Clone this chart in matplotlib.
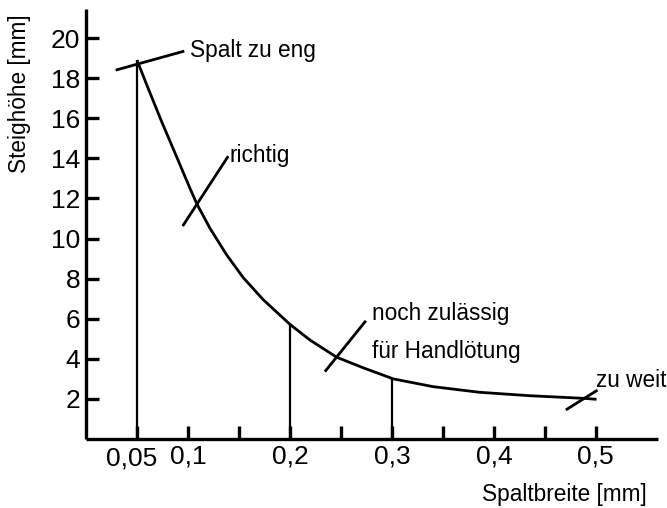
import matplotlib
matplotlib.use("Agg")
import matplotlib.pyplot as plt
import matplotlib.transforms as mtransforms

plt.rcParams['font.family'] = ['Liberation Sans', 'DejaVu Sans']

# Data
curve_x = [0.05, 0.0601, 0.0742, 0.0882, 0.102, 0.1085, 0.1216, 0.138, 0.1542,
           0.1738, 0.2, 0.2196, 0.2458, 0.272, 0.3013, 0.3405, 0.386, 0.435,
           0.4876, 0.5007]
curve_y = [18.9, 17.6, 15.83, 14.16, 12.5, 11.75, 10.51, 9.18, 8.05,
           6.95, 5.72, 4.94, 4.08, 3.55, 3.0, 2.61, 2.33, 2.16,
           2.03, 1.98]

drop_x = [0.05, 0.2, 0.3]
drop_y = [18.9, 5.72, 3.0]

y_ticks = [2, 4, 6, 8, 10, 12, 14, 16, 18, 20]
x_ticks = [0.05, 0.1, 0.15, 0.2, 0.25, 0.3, 0.35, 0.4, 0.45, 0.5]
x_tick_labels = ['0,05', '0,1', '', '0,2', '', '0,3', '', '0,4', '', '0,5']

# annotations: (text lines, text pos, leader line start, leader line end)
annotations = [
    (["Spalt zu eng"], (0.102, 19.05), (0.0291, 18.40), (0.0964, 19.35)),
    (["richtig"], (0.141, 13.83), (0.0948, 10.62), (0.1395, 14.11)),
    (["noch zulässig", "für Handlötung"], (0.2804, 5.93), (0.2343, 3.36), (0.2745, 5.90)),
    (["zu weit"], (0.500, 2.61), (0.4706, 1.45), (0.5017, 2.44)),
]
text_line_gap = 1.91

fig = plt.figure(figsize=(6.67, 5.08), dpi=100)
ax = fig.add_axes([86/667, 1 - 439/508, (658 - 86)/667, (439 - 9)/508])
ax.set_xlim(0, 0.561)
ax.set_ylim(0, 21.45)

for s in ['top', 'right']:
    ax.spines[s].set_visible(False)
for s in ['left', 'bottom']:
    ax.spines[s].set_linewidth(2.4)
    ax.spines[s].set_capstyle('butt')

ax.plot(curve_x, curve_y, color='black', lw=2.0, solid_capstyle='butt',
        solid_joinstyle='round')
ax.vlines(drop_x, 0, drop_y, color='black', lw=1.6)

for lines, (tx, ty), p0, p1 in annotations:
    ax.plot([p0[0], p1[0]], [p0[1], p1[1]], color='black', lw=2.0,
            solid_capstyle='butt')
    for i, t in enumerate(lines):
        ax.text(tx, ty - i * text_line_gap, t, fontsize=16.3, ha='left',
                va='baseline', color='black')

ax.set_yticks(y_ticks)
ax.set_yticklabels([str(v) for v in y_ticks])
ax.set_xticks(x_ticks)
ax.set_xticklabels(x_tick_labels)
ax.tick_params(axis='y', direction='in', length=9, width=2.4, pad=4,
               labelsize=19)
ax.tick_params(axis='x', direction='in', length=9.5, width=2.4, pad=4,
               labelsize=19)

# the 0,05 label sits slightly to the left and lower in the reference
lab = ax.get_xticklabels()[0]
off = mtransforms.ScaledTranslation(-5.5/100, -2/100, fig.dpi_scale_trans)
lab.set_transform(lab.get_transform() + off)

fig.text(647/667, 1 - 501/508, "Spaltbreite [mm]", fontsize=16.3,
         ha='right', va='baseline')
fig.text(20/667, 1 - 93.5/508, "Steighöhe [mm]", fontsize=16.3,
         rotation=90, ha='center', va='center')

fig.savefig("out.png", dpi=100)
